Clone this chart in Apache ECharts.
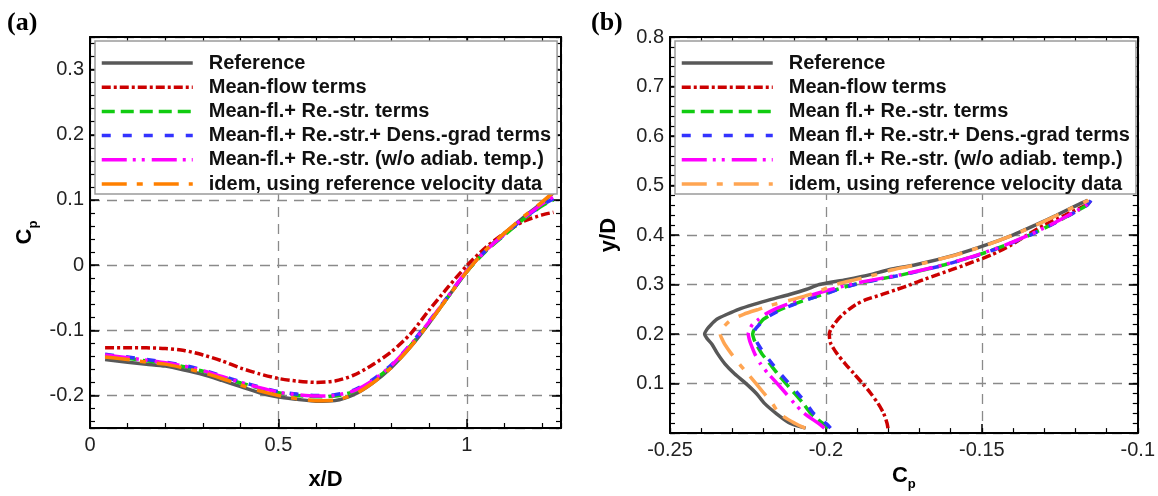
<!DOCTYPE html>
<html>
<head>
<meta charset="utf-8">
<title>Cp profiles</title>
<script src="https://cdn.jsdelivr.net/npm/echarts@6/dist/echarts.min.js"></script>
<style>
  html, body { margin: 0; padding: 0; background: #fff; }
  #chart { width: 1158px; height: 496px; }
</style>
</head>
<body>
<div id="chart"></div>
<script>
// ---- panel (a): Cp along the wall, x/D ----
const xA = [0.04, 0.1, 0.15, 0.2, 0.25, 0.3, 0.35, 0.4, 0.45, 0.5, 0.55, 0.6, 0.65, 0.7, 0.75, 0.8, 0.85, 0.9, 0.95, 1.0, 1.05, 1.1, 1.15, 1.2, 1.23];
const refA   = [-0.145, -0.149, -0.152, -0.155, -0.161, -0.168, -0.177, -0.1865, -0.196, -0.2025, -0.206, -0.209, -0.208, -0.199, -0.181, -0.157, -0.126, -0.089, -0.049, -0.010, 0.023, 0.049, 0.073, 0.096, 0.111];
const meanA  = [-0.127, -0.127, -0.127, -0.128, -0.131, -0.138, -0.147, -0.158, -0.167, -0.174, -0.178, -0.180, -0.178, -0.169, -0.153, -0.133, -0.106, -0.069, -0.034, -0.001, 0.027, 0.049, 0.067, 0.077, 0.081];
const reA    = [-0.139, -0.143, -0.147, -0.151, -0.156, -0.163, -0.172, -0.181, -0.189, -0.196, -0.200, -0.202, -0.201, -0.194, -0.178, -0.155, -0.124, -0.088, -0.049, -0.010, 0.021, 0.046, 0.070, 0.091, 0.100];
const densA  = [-0.137, -0.141, -0.145, -0.149, -0.154, -0.161, -0.170, -0.179, -0.187, -0.194, -0.198, -0.200, -0.199, -0.192, -0.176, -0.153, -0.122, -0.086, -0.048, -0.009, 0.022, 0.047, 0.071, 0.092, 0.102];
const adiabA = [-0.138, -0.142, -0.146, -0.150, -0.155, -0.162, -0.171, -0.180, -0.188, -0.195, -0.199, -0.201, -0.200, -0.193, -0.177, -0.154, -0.123, -0.087, -0.048, -0.009, 0.022, 0.048, 0.072, 0.094, 0.105];
const idemA  = [-0.141, -0.145, -0.149, -0.152, -0.158, -0.165, -0.174, -0.184, -0.193, -0.200, -0.205, -0.208, -0.207, -0.199, -0.181, -0.157, -0.126, -0.089, -0.049, -0.010, 0.023, 0.049, 0.074, 0.097, 0.112];

// ---- panel (b): Cp against y/D ----
const yB = [0.01, 0.02, 0.04, 0.06, 0.08, 0.10, 0.12, 0.14, 0.16, 0.18, 0.19, 0.20, 0.21, 0.22, 0.23, 0.24, 0.25, 0.26, 0.27, 0.28, 0.29, 0.30, 0.31, 0.32, 0.33, 0.34, 0.36, 0.38, 0.40, 0.42, 0.44, 0.46, 0.47];
const refB   = [-0.2065, -0.2115, -0.2160, -0.2197, -0.2223, -0.2256, -0.2293, -0.2324, -0.2347, -0.2366, -0.2380, -0.2389, -0.2381, -0.2367, -0.2350, -0.2317, -0.2280, -0.2231, -0.2176, -0.2117, -0.2064, -0.2021, -0.1935, -0.1858, -0.1799, -0.1712, -0.1585, -0.1486, -0.1401, -0.1329, -0.1261, -0.1196, -0.1161];
const meanB  = [-0.1801, -0.1804, -0.1815, -0.1833, -0.1856, -0.1882, -0.1910, -0.1938, -0.1964, -0.1984, -0.1988, -0.1989, -0.1984, -0.1973, -0.1961, -0.1945, -0.1926, -0.1903, -0.1870, -0.1820, -0.1773, -0.1728, -0.1687, -0.1642, -0.1597, -0.1553, -0.1469, -0.1406, -0.1355, -0.1300, -0.1234, -0.1167, -0.1150];
const reB    = [-0.1993, -0.2011, -0.2049, -0.2073, -0.2100, -0.2128, -0.2155, -0.2180, -0.2205, -0.2224, -0.2231, -0.2235, -0.2229, -0.2214, -0.2200, -0.2175, -0.2145, -0.2105, -0.2060, -0.2010, -0.1965, -0.1910, -0.1835, -0.1754, -0.1684, -0.1619, -0.1511, -0.1422, -0.1347, -0.1280, -0.1220, -0.1164, -0.1150];
const densB  = [-0.1985, -0.2001, -0.2040, -0.2063, -0.2090, -0.2118, -0.2146, -0.2172, -0.2197, -0.2218, -0.2226, -0.2231, -0.2226, -0.2212, -0.2197, -0.2172, -0.2142, -0.2102, -0.2057, -0.2007, -0.1962, -0.1907, -0.1833, -0.1752, -0.1682, -0.1617, -0.1509, -0.1420, -0.1345, -0.1279, -0.1219, -0.1163, -0.1150];
const adiabB = [-0.2005, -0.2025, -0.2070, -0.2101, -0.2128, -0.2156, -0.2185, -0.2210, -0.2228, -0.2241, -0.2246, -0.2249, -0.2244, -0.2235, -0.2215, -0.2195, -0.2165, -0.2125, -0.2090, -0.2040, -0.1985, -0.1925, -0.1845, -0.1760, -0.1688, -0.1622, -0.1513, -0.1424, -0.1349, -0.1282, -0.1222, -0.1166, -0.1152];
const idemB  = [-0.2066, -0.2100, -0.2150, -0.2172, -0.2198, -0.2224, -0.2251, -0.2278, -0.2303, -0.2325, -0.2333, -0.2339, -0.2334, -0.2320, -0.2300, -0.2264, -0.2216, -0.2166, -0.2105, -0.2050, -0.2010, -0.1968, -0.1905, -0.1840, -0.1785, -0.1708, -0.1582, -0.1484, -0.1399, -0.1327, -0.1259, -0.1194, -0.1158];

const namesA = ['Reference', 'Mean-flow terms', 'Mean-fl.+ Re.-str. terms', 'Mean-fl.+ Re.-str.+ Dens.-grad terms', 'Mean-fl.+ Re.-str. (w/o adiab. temp.)', 'idem, using reference velocity data'];
// zero-width suffix keeps the (b) legend pointing at its own series
const namesB = ['Reference', 'Mean-flow terms', 'Mean fl.+ Re.-str. terms', 'Mean fl.+ Re.-str.+ Dens.-grad terms', 'Mean fl.+ Re.-str. (w/o adiab. temp.)', 'idem, using reference velocity data'].map(n => n + '\u200b');

const styles = [
  { color: '#585858', type: 'solid' },
  { color: '#cc0000', type: [9, 3, 3, 3] },
  { color: '#11cc11', type: [13, 6] },
  { color: '#3333ff', type: [9, 12] },
  { color: '#ff00ff', type: [25, 6, 3, 6, 3, 7] },
  { color: '#ff8000', type: [25, 10, 6, 11] }
];
const orangeB = '#ffa552';

const tickFont = { fontFamily: 'Liberation Sans, Arial, sans-serif', fontSize: 20, color: '#222' };
const titleFont = { fontFamily: 'Liberation Sans, Arial, sans-serif', fontSize: 22, fontWeight: 'bold', color: '#000' };
const cpRich = {
  c: { fontFamily: 'Liberation Sans', fontSize: 22, fontWeight: 'bold', color: '#000', lineHeight: 30, verticalAlign: 'middle' },
  s: { fontFamily: 'Liberation Sans', fontSize: 13, fontWeight: 'bold', color: '#000', lineHeight: 30, verticalAlign: 'bottom' }
};
const gridDash = { show: true, lineStyle: { color: '#8a8a8a', width: 1.3, type: [10, 7] } };

// main + minor tick axes, on both edges of the box
function axisSet(dim, gi, min, max, major, minor, main) {
  const pos = dim === 'x' ? ['bottom', 'top'] : ['left', 'right'];
  const out = [];
  pos.forEach(function (p, k) {
    out.push(Object.assign({
      type: 'value', gridIndex: gi, position: p, min: min, max: max,
      axisLine: { show: true, onZero: false, lineStyle: { color: '#000', width: 2 } },
      axisTick: { show: true, inside: true, length: 9, lineStyle: { color: '#000', width: 1.5 } },
      axisLabel: { show: false },
      splitLine: { show: false }
    }, major, k === 0 ? main : {}));
    out.push(Object.assign({
      type: 'value', gridIndex: gi, position: p, min: min, max: max,
      axisLine: { show: false, onZero: false },
      axisTick: { show: true, inside: true, length: 5, lineStyle: { color: '#000', width: 1.2 } },
      axisLabel: { show: false },
      splitLine: { show: false }
    }, minor));
  });
  return out;
}

const xAxes = [].concat(
  axisSet('x', 0, 0, 1.25, { interval: 0.5 }, { interval: 0.1 }, {
    axisLabel: Object.assign({ show: true, margin: 7, showMaxLabel: false }, tickFont),
    splitLine: gridDash,
    name: 'x/D', nameLocation: 'middle', nameGap: 41, nameTextStyle: titleFont
  }),
  axisSet('x', 1, -0.25, -0.1, { interval: 0.05 }, { interval: 0.01 }, {
    axisLabel: Object.assign({ show: true, margin: 7 }, tickFont),
    splitLine: gridDash,
    name: '{c|C}{s|p}', nameLocation: 'middle', nameGap: 25, nameTextStyle: { rich: cpRich }
  })
);
const yAxes = [].concat(
  axisSet('y', 0, -0.25, 0.35, { splitNumber: 6 }, { splitNumber: 30 }, {
    axisLabel: Object.assign({ show: true, margin: 6, showMinLabel: false, showMaxLabel: false }, tickFont),
    splitLine: gridDash,
    name: '{c|C}{s|p}', nameLocation: 'middle', nameRotate: 90, nameGap: 50, nameTextStyle: { rich: cpRich }
  }),
  axisSet('y', 1, 0, 0.8, { interval: 0.1 }, { interval: 0.02 }, {
    axisLabel: Object.assign({ show: true, margin: 6, showMinLabel: false }, tickFont),
    splitLine: gridDash,
    name: 'y/D', nameLocation: 'middle', nameRotate: 90, nameGap: 50, nameTextStyle: titleFont
  })
);

function lineSeries(name, gi, pts, st, color) {
  return {
    name: name, type: 'line', xAxisIndex: gi * 4, yAxisIndex: gi * 4,
    data: pts, showSymbol: false, symbol: 'none', smooth: 0.25,
    lineStyle: { color: color || st.color, width: 3.5, type: st.type },
    itemStyle: { color: color || st.color },
    emphasis: { disabled: true }
  };
}

const seriesA = [refA, meanA, reA, densA, adiabA, idemA].map(function (ys, i) {
  return lineSeries(namesA[i], 0, xA.map((x, j) => [x, ys[j]]), styles[i]);
});
const seriesB = [refB, meanB, reB, densB, adiabB, idemB].map(function (cs, i) {
  return lineSeries(namesB[i], 1, yB.map((y, j) => [cs[j], y]), styles[i], i === 5 ? orangeB : null);
});

function legendAt(left, names) {
  return {
    orient: 'vertical', left: left, top: 41,
    data: names, selectedMode: false,
    itemWidth: 91, itemHeight: 14, itemGap: 4.2,
    padding: [12, 6, 0, 5],
    backgroundColor: '#fff', borderColor: '#9a9a9a', borderWidth: 1.5,
    itemStyle: { opacity: 0 },
    lineStyle: { width: 3.5 },
    textStyle: { fontFamily: 'Liberation Sans, Arial, sans-serif', fontWeight: 'bold', fontSize: 20, lineHeight: 19, color: '#111', padding: [0, 0, 0, 11] }
  };
}

const chart = echarts.init(document.getElementById('chart'), null, { renderer: 'canvas' });
chart.setOption({
  animation: false,
  backgroundColor: '#fff',
  grid: [
    { left: 90, top: 37, width: 471, height: 408 },
    { left: 670, top: 37, width: 469, height: 408 }
  ],
  xAxis: xAxes,
  yAxis: yAxes,
  legend: [legendAt(95, namesA), legendAt(675, namesB)],
  graphic: [
    { type: 'text', left: 7, top: 10, style: { text: '(a)', font: 'bold 26px "Liberation Serif", serif', fill: '#000' } },
    { type: 'text', left: 591, top: 10, style: { text: '(b)', font: 'bold 26px "Liberation Serif", serif', fill: '#000' } }
  ],
  series: seriesA.concat(seriesB)
});
</script>
</body>
</html>
